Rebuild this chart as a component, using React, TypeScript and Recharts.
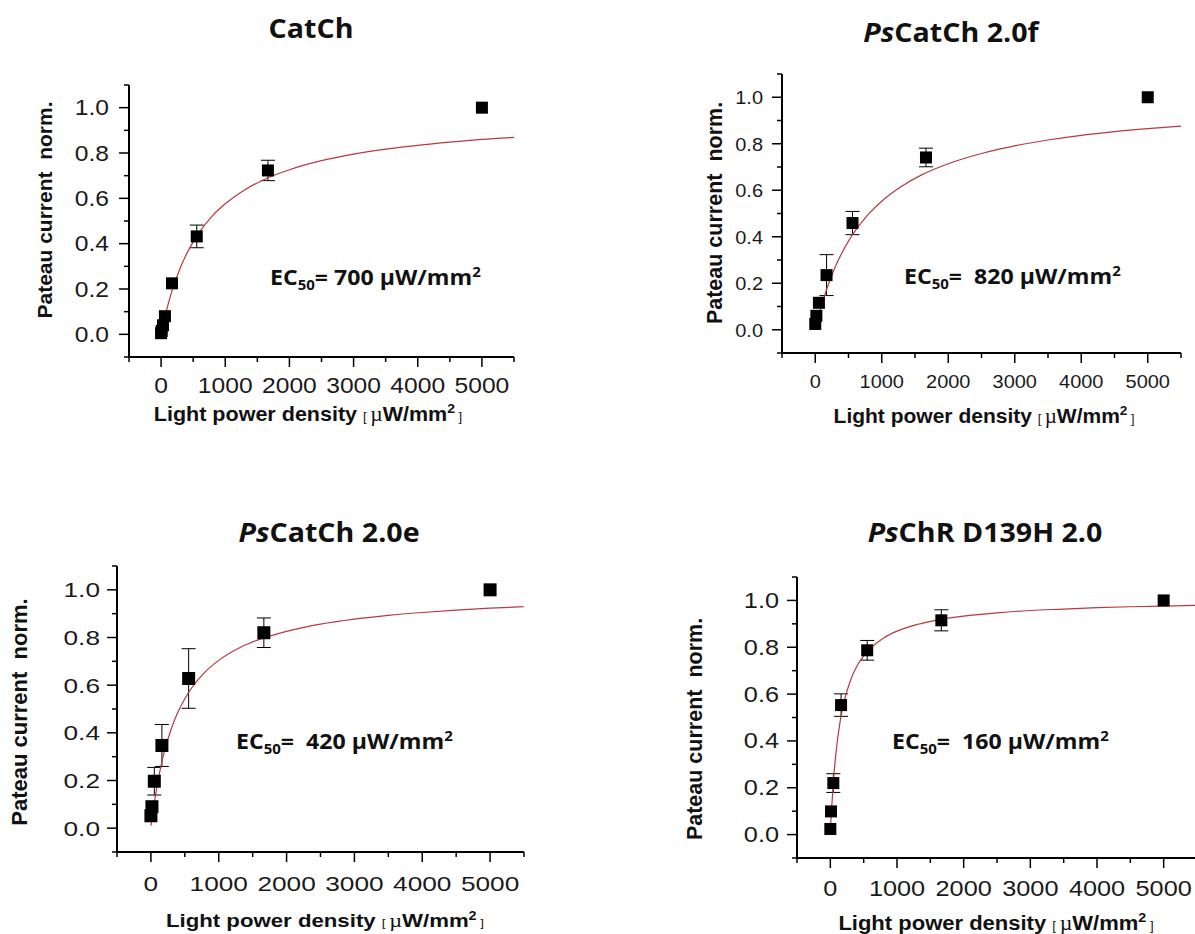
import React from 'react';
import { ComposedChart, Scatter, Line, XAxis, YAxis, ErrorBar } from 'recharts';

// measured points: light power density [µW/mm²], normalized plateau current, error
const catchX = [0, 10, 30, 60, 170, 556, 1665, 5000];
const catchY = [0.005, 0.015, 0.04, 0.08, 0.225, 0.432, 0.723, 1.0];
const catchErr = [0, 0, 0, 0, 0, 0.05, 0.045, 0];

const fCatchX = [0, 17, 55, 170, 560, 1665, 5000];
const fCatchY = [0.025, 0.06, 0.116, 0.235, 0.459, 0.741, 1.0];
const fCatchErr = [0, 0, 0, 0.088, 0.05, 0.04, 0];

const eCatchX = [0, 15, 50, 162, 556, 1665, 5000];
const eCatchY = [0.052, 0.09, 0.197, 0.347, 0.628, 0.82, 1.0];
const eCatchErr = [0, 0, 0.058, 0.088, 0.125, 0.062, 0];

const chrX = [0, 10, 45, 161, 553, 1665, 5000];
const chrY = [0.024, 0.099, 0.22, 0.553, 0.787, 0.915, 1.0];
const chrErr = [0, 0, 0.04, 0.048, 0.042, 0.045, 0];

// fitted curves
const fitX = [0, 25, 50, 100, 150, 200, 300, 400, 500, 600, 800, 1000, 1300, 1600, 2000, 2500, 3000, 3500, 4000, 4500, 5000, 5500];
const catchFit = [0, 0.034, 0.065, 0.122, 0.173, 0.218, 0.294, 0.356, 0.408, 0.452, 0.523, 0.576, 0.637, 0.682, 0.726, 0.766, 0.795, 0.817, 0.834, 0.848, 0.86, 0.869];
const fCatchFit = [0, 0.03, 0.058, 0.109, 0.156, 0.197, 0.27, 0.33, 0.381, 0.425, 0.497, 0.553, 0.617, 0.666, 0.714, 0.758, 0.791, 0.816, 0.836, 0.852, 0.865, 0.876];
const eCatchFit = [0.01, 0.06, 0.106, 0.192, 0.263, 0.323, 0.417, 0.488, 0.543, 0.588, 0.656, 0.704, 0.756, 0.792, 0.826, 0.856, 0.877, 0.893, 0.905, 0.915, 0.923, 0.929];
const chrFitX = [0, 10, 25, 50, 75, 100, 150, 200, 300, 400, 500, 600, 800, 1000, 1300, 1600, 2000, 2500, 3000, 3500, 4000, 4500, 5000, 5500];
const chrFit = [0.02, 0.07, 0.136, 0.24, 0.322, 0.388, 0.488, 0.56, 0.657, 0.72, 0.763, 0.795, 0.84, 0.869, 0.897, 0.916, 0.933, 0.947, 0.957, 0.963, 0.969, 0.973, 0.976, 0.979];

const xTicks = [-500, 0, 500, 1000, 1500, 2000, 2500, 3000, 3500, 4000, 4500, 5000, 5500];
const yTicks = [-0.1, 0, 0.1, 0.2, 0.3, 0.4, 0.5, 0.6, 0.7, 0.8, 0.9, 1.0, 1.1];

const toPoints = (xs: number[], ys: number[], errs?: number[]) =>
  xs.map((x, i) => ({ x, y: ys[i], err: errs ? errs[i] : 0 }));

const panels = [
  {
    pre: '', title: 'CatCh', ec50: '700', ecGap: ' ',
    pts: toPoints(catchX, catchY, catchErr), fit: toPoints(fitX, catchFit),
    L: 129, R: 514, T: 85, B: 357, sq: 12,
    font: 22, sx: 1.12, yGap: 10, xGap: 28,
    titlePos: [311, 28], yTitle: [44, 210, 21], xTitle: [308, 413, 20.5, 1.05], ec: [270, 278],
  },
  {
    pre: 'Ps', title: 'CatCh 2.0f', ec50: '820', ecGap: '\u00a0 ',
    pts: toPoints(fCatchX, fCatchY, fCatchErr), fit: toPoints(fitX, fCatchFit),
    L: 782, R: 1181, T: 74, B: 353, sq: 12,
    font: 19, sx: 1.05, yGap: 9, xGap: 28,
    titlePos: [951, 32], yTitle: [716, 213, 21.5], xTitle: [984, 415, 21, 1], ec: [904, 277],
  },
  {
    pre: 'Ps', title: 'CatCh 2.0e', ec50: '420', ecGap: '\u00a0 ',
    pts: toPoints(eCatchX, eCatchY, eCatchErr), fit: toPoints(fitX, eCatchFit),
    L: 117, R: 524, T: 566, B: 852, sq: 13,
    font: 21, sx: 1.25, yGap: 7, xGap: 31,
    titlePos: [329, 532], yTitle: [20, 712, 22], xTitle: [325, 920, 18.5, 1.2], ec: [236, 742],
  },
  {
    pre: 'Ps', title: 'ChR D139H 2.0', ec50: '160', ecGap: '\u00a0 ',
    pts: toPoints(chrX, chrY, chrErr), fit: toPoints(chrFitX, chrFit),
    L: 797, R: 1197, T: 577, B: 858, sq: 12,
    font: 22, sx: 1.15, yGap: 8, xGap: 31,
    titlePos: [985, 532], yTitle: [696, 729, 21.5], xTitle: [996, 922, 20, 1.1], ec: [892, 742],
  },
];

const tickFont = '"Liberation Sans", Arial, sans-serif';
const titleFont = '"Open Sans", "Noto Sans", sans-serif';
const fitColor = '#b8393f';

function Panel({ p }: { p: (typeof panels)[number] }) {
  const yAxisW = 70;
  const xAxisH = 50;
  const width = p.R - p.L + yAxisW + 10;
  const height = p.B - p.T + 10 + xAxisH;

  const xTick = (props: any) => {
    const { x, y, payload } = props;
    const major = payload.value % 1000 === 0;
    return (
      <g>
        <line x1={x} y1={y} x2={x} y2={y + (major ? 10 : 5)} stroke="#000" strokeWidth={1.5} />
        {major && (
          <text
            transform={`translate(${x},${y + p.xGap}) scale(${p.sx},1)`}
            textAnchor="middle"
            dominantBaseline="central"
            fontSize={p.font}
            fontFamily={tickFont}
            fill="#1a1a1a"
          >
            {payload.value}
          </text>
        )}
      </g>
    );
  };

  const yTick = (props: any) => {
    const { x, y, payload } = props;
    const major = Math.round(payload.value * 10) % 2 === 0;
    return (
      <g>
        <line x1={x} y1={y} x2={x - (major ? 10 : 5)} y2={y} stroke="#000" strokeWidth={1.5} />
        {major && (
          <text
            transform={`translate(${x - 10 - p.yGap},${y}) scale(${p.sx},1)`}
            textAnchor="end"
            dominantBaseline="central"
            fontSize={p.font}
            fontFamily={tickFont}
            fill="#1a1a1a"
          >
            {payload.value.toFixed(1)}
          </text>
        )}
      </g>
    );
  };

  const square = (props: any) => {
    const { cx, cy } = props;
    if (cx == null || cy == null) return <g />;
    return <rect x={cx - p.sq / 2} y={cy - p.sq / 2} width={p.sq} height={p.sq} fill="#000" />;
  };

  return (
    <div style={{ position: 'absolute', left: p.L - yAxisW, top: p.T - 10 }}>
      <ComposedChart width={width} height={height} margin={{ top: 10, right: 10, left: 0, bottom: 0 }}>
        <XAxis
          type="number"
          dataKey="x"
          domain={[-500, 5500]}
          ticks={xTicks}
          interval={0}
          height={xAxisH}
          tickSize={0}
          tickMargin={0}
          tickLine={false}
          tick={xTick}
          axisLine={{ stroke: '#000', strokeWidth: 2 }}
          allowDataOverflow
        />
        <YAxis
          type="number"
          dataKey="y"
          domain={[-0.1, 1.1]}
          ticks={yTicks}
          interval={0}
          width={yAxisW}
          tickSize={0}
          tickMargin={0}
          tickLine={false}
          tick={yTick}
          axisLine={{ stroke: '#000', strokeWidth: 2 }}
          allowDataOverflow
        />
        <Scatter data={p.pts} dataKey="y" shape={square} isAnimationActive={false}>
          <ErrorBar dataKey="err" direction="y" width={7} stroke="#000" strokeWidth={1} isAnimationActive={false} />
        </Scatter>
        <Line
          data={p.fit}
          dataKey="y"
          type="monotone"
          stroke={fitColor}
          strokeWidth={1.2}
          dot={false}
          activeDot={false}
          isAnimationActive={false}
        />
      </ComposedChart>
    </div>
  );
}

function Labels({ p }: { p: (typeof panels)[number] }) {
  const abs: React.CSSProperties = { position: 'absolute', whiteSpace: 'nowrap', lineHeight: 1 };
  return (
    <>
      <div
        style={{
          ...abs,
          left: p.titlePos[0],
          top: p.titlePos[1],
          transform: 'translate(-50%,-50%) scaleX(1.1)',
          fontFamily: titleFont,
          fontWeight: 700,
          fontSize: 26,
          color: '#111',
        }}
      >
        {p.pre && <i>{p.pre}</i>}
        {p.title}
      </div>
      <div
        style={{
          ...abs,
          left: p.yTitle[0],
          top: p.yTitle[1],
          transform: 'translate(-50%,-50%) rotate(-90deg)',
          fontFamily: tickFont,
          fontWeight: 700,
          fontSize: p.yTitle[2],
          color: '#111',
        }}
      >
        Pateau current&nbsp; norm.
      </div>
      <div
        style={{
          ...abs,
          left: p.xTitle[0],
          top: p.xTitle[1],
          transform: `translate(-50%,-50%) scaleX(${p.xTitle[3]})`,
          fontFamily: tickFont,
          fontWeight: 700,
          fontSize: p.xTitle[2],
          color: '#111',
        }}
      >
        Light power density{' '}
        <span style={{ fontSize: '0.6em', fontWeight: 400 }}>[ </span>
        <span style={{ fontFamily: '"Liberation Serif", serif', fontWeight: 400 }}>µ</span>
        W/mm<sup style={{ fontSize: '0.65em' }}>2</sup>
        <span style={{ fontSize: '0.6em', fontWeight: 400 }}> ]</span>
      </div>
      <div
        style={{
          ...abs,
          left: p.ec[0],
          top: p.ec[1],
          transform: 'translateY(-50%) scaleX(1.1)',
          transformOrigin: 'left center',
          fontFamily: titleFont,
          fontWeight: 700,
          fontSize: 21,
          color: '#111',
        }}
      >
        EC<sub style={{ fontSize: '0.65em' }}>50</sub>={p.ecGap}
        {p.ec50} µW/mm<sup style={{ fontSize: '0.65em' }}>2</sup>
      </div>
    </>
  );
}

export default function App() {
  return (
    <div
      style={{
        position: 'absolute',
        left: 0,
        top: 0,
        width: 1195,
        height: 934,
        overflow: 'hidden',
        background: '#fff',
      }}
    >
      {panels.map((p, i) => (
        <Panel key={i} p={p} />
      ))}
      {panels.map((p, i) => (
        <Labels key={'l' + i} p={p} />
      ))}
    </div>
  );
}
